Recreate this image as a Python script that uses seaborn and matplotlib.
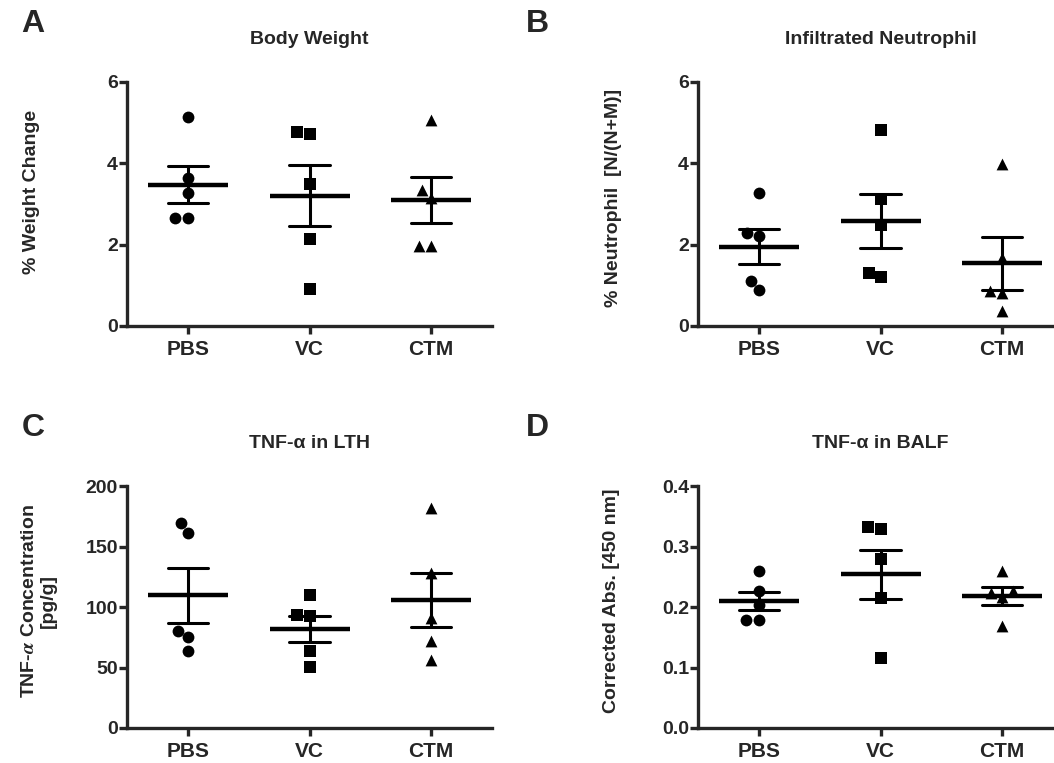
import pandas as pd
import matplotlib
matplotlib.use("Agg")
import matplotlib.pyplot as plt
import seaborn as sns

groups = ["PBS", "VC", "CTM"]
markers = ["o", "s", "^"]

# panel A - body weight change (%)
body_pbs = [5.14, 3.64, 3.27, 2.66, 2.66]
body_vc = [4.77, 4.71, 3.49, 2.15, 0.90]
body_ctm = [5.07, 3.34, 3.15, 1.97, 1.97]

# panel B - infiltrated neutrophil (%)
neut_pbs = [3.27, 2.29, 2.21, 1.11, 0.88]
neut_vc = [4.81, 3.13, 2.49, 1.30, 1.20]
neut_ctm = [3.98, 1.68, 0.86, 0.80, 0.37]

# panel C - TNF-a in LTH (pg/g)
lth_pbs = [169.2, 160.9, 80.3, 74.8, 63.3]
lth_vc = [110.0, 93.0, 92.5, 63.8, 50.1]
lth_ctm = [181.6, 127.9, 91.3, 72.1, 56.4]

# panel D - TNF-a in BALF (abs 450 nm)
balf_pbs = [0.260, 0.227, 0.204, 0.179, 0.179]
balf_vc = [0.333, 0.329, 0.279, 0.215, 0.115]
balf_ctm = [0.259, 0.226, 0.223, 0.216, 0.168]

W, H = 1054, 763


def long_df(pbs, vc, ctm):
    rows = []
    for g, vals in zip(groups, [pbs, vc, ctm]):
        for v in vals:
            rows.append({"group": g, "value": v})
    return pd.DataFrame(rows)


def fx(px):
    return px / W


def fy(py):
    return 1 - py / H


sns.set_style("ticks")
plt.rcParams["font.family"] = ["Liberation Sans", "DejaVu Sans"]
plt.rcParams["font.weight"] = "bold"
plt.rcParams["mathtext.fontset"] = "stix"

fig = plt.figure(figsize=(W / 100, H / 100), dpi=100)

panels = [
    dict(data=(body_pbs, body_vc, body_ctm), box=(127, 326, 244), ylim=(0, 6),
         yticks=[0, 2, 4, 6], fmt="{:.0f}", letter="A", title="Body Weight",
         ylabel="% Weight Change", lab=(32, 192)),
    dict(data=(neut_pbs, neut_vc, neut_ctm), box=(698, 326, 244), ylim=(0, 6),
         yticks=[0, 2, 4, 6], fmt="{:.0f}", letter="B", title="Infiltrated Neutrophil",
         ylabel="% Neutrophil  [N/(N+M)]", lab=(613, 198)),
    dict(data=(lth_pbs, lth_vc, lth_ctm), box=(127, 728, 242), ylim=(0, 200),
         yticks=[0, 50, 100, 150, 200], fmt="{:.0f}", letter="C", title="TNF-α in LTH",
         ylabel="TNF-$\\alpha$ Concentration\n[pg/g]", lab=(39, 601)),
    dict(data=(balf_pbs, balf_vc, balf_ctm), box=(698, 728, 242), ylim=(0, 0.4),
         yticks=[0, 0.1, 0.2, 0.3, 0.4], fmt="{:.1f}", letter="D", title="TNF-α in BALF",
         ylabel="Corrected Abs. [450 nm]", lab=(612, 601)),
]

for p in panels:
    left, bottom, height = p["box"]
    ax = fig.add_axes([fx(left), fy(bottom), 365 / W, height / H])
    df = long_df(*p["data"])

    # individual animals
    for g, m in zip(groups, markers):
        sns.swarmplot(data=df[df["group"] == g], x="group", y="value", order=groups,
                      marker=m, color="black", size=8.5, ax=ax, zorder=3)

    # mean +/- SEM
    sns.pointplot(data=df, x="group", y="value", order=groups, errorbar="se",
                  capsize=0.33, color="black", linestyle="none", marker="_",
                  markersize=58, markeredgewidth=3.2, err_kws={"linewidth": 2.2},
                  ax=ax)

    ax.set_xlim(-0.5, 2.5)
    ax.set_ylim(*p["ylim"])
    ax.set_yticks(p["yticks"])
    ax.set_yticklabels([p["fmt"].format(t) for t in p["yticks"]])
    ax.set_xlabel("")
    ax.set_ylabel("")
    sns.despine(ax=ax)
    for s in ["left", "bottom"]:
        ax.spines[s].set_linewidth(2.4)
    ax.tick_params(axis="y", width=2.4, length=5.5, pad=1, labelsize=14)
    ax.tick_params(axis="x", width=2.4, length=6, pad=4, labelsize=15)
    for lbl in ax.get_xticklabels() + ax.get_yticklabels():
        lbl.set_fontweight("bold")

    cx = left + 365 / 2
    fig.text(fx(cx), fy(40 if bottom < 400 else 443), p["title"], ha="center", va="center",
             fontsize=14, fontweight="bold")
    fig.text(fx(33 if left < 400 else 537), fy(24 if bottom < 400 else 428), p["letter"],
             ha="center", va="center", fontsize=23, fontweight="bold")
    fig.text(fx(p["lab"][0]), fy(p["lab"][1]), p["ylabel"], ha="center", va="center",
             rotation=90, fontsize=14, fontweight="bold", multialignment="center")

fig.savefig("out.png", dpi=100)
